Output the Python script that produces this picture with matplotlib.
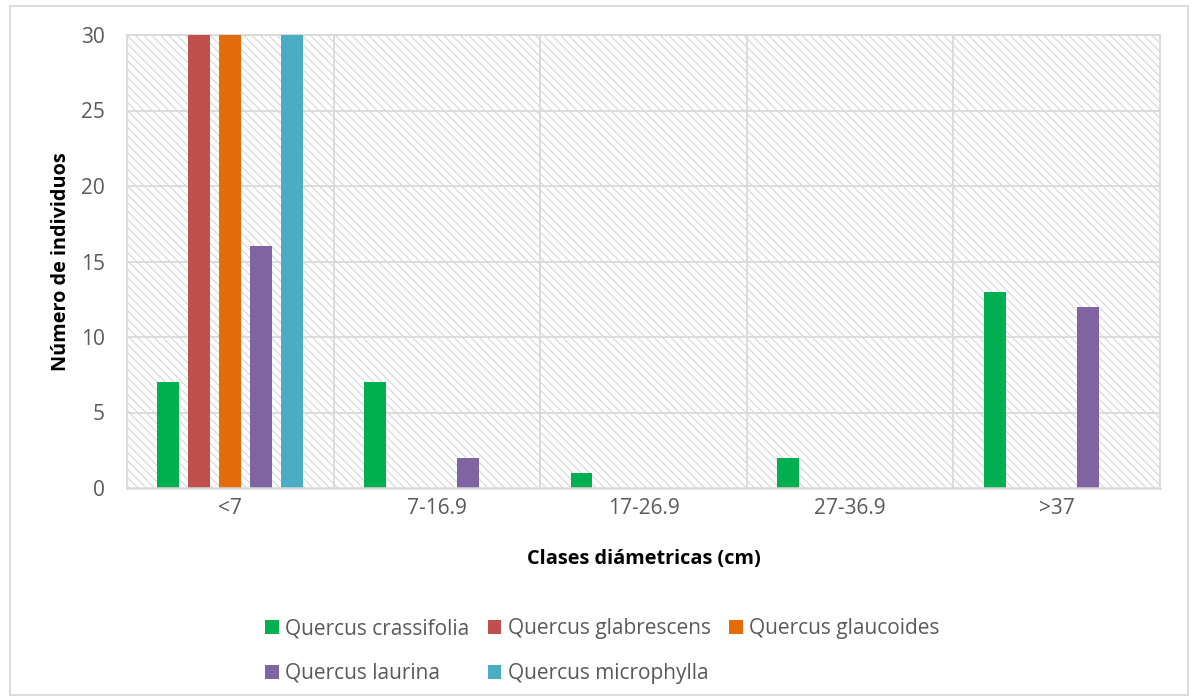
import matplotlib
matplotlib.use("Agg")
import matplotlib.pyplot as plt
from matplotlib.patches import Rectangle
import numpy as np

plt.rcParams['font.family'] = ['Open Sans', 'DejaVu Sans']
plt.rcParams['hatch.linewidth'] = 0.8

categories = ['<7', '7-16.9', '17-26.9', '27-36.9', '>37']
species = ['Quercus crassifolia', 'Quercus glabrescens', 'Quercus glaucoides',
           'Quercus laurina', 'Quercus microphylla']
crassifolia = [7, 7, 1, 2, 13]
glabrescens = [30, 0, 0, 0, 0]
glaucoides = [30, 0, 0, 0, 0]
laurina = [16, 2, 0, 0, 12]
microphylla = [30, 0, 0, 0, 0]
series = [crassifolia, glabrescens, glaucoides, laurina, microphylla]
colors = ['#00B050', '#C0504D', '#E36C09', '#8064A2', '#4BACC6']
y_ticks = [0, 5, 10, 15, 20, 25, 30]

grid_c = '#D9D9D9'
text_c = '#595959'

fig = plt.figure(figsize=(11.95, 7.0), dpi=100)
ax = fig.add_axes([127 / 1195, 1 - 488 / 700, (1160 - 127) / 1195, (488 - 35) / 700])

# hatched plot-area background
ax.set_facecolor('white')
bg = Rectangle((0, 0), 1, 1, transform=ax.transAxes, facecolor='white',
               edgecolor='#D6D6D6', hatch='\\\\\\\\', linewidth=0, zorder=0)
ax.add_patch(bg)

x = np.arange(len(categories))
step = 0.15
width = 0.106
handles = []
for i, (vals, col, name) in enumerate(zip(series, colors, species)):
    h = ax.bar(x + (i - 2) * step, vals, width=width, color=col, label=name, zorder=3)
    handles.append(h)

ax.set_xlim(-0.5, len(categories) - 0.5)
ax.set_ylim(0, 30)
ax.set_yticks(y_ticks)
ax.set_yticklabels([str(t) for t in y_ticks])
ax.set_xticks(x)
ax.set_xticklabels(categories)

# horizontal grid and category separators
for t in y_ticks[1:]:
    ax.axhline(t, color=grid_c, linewidth=1.3, zorder=1)
for b in np.arange(0.5, len(categories) - 1, 1.0):
    ax.axvline(b, color=grid_c, linewidth=1.3, zorder=1)

for s in ['left', 'right', 'top']:
    ax.spines[s].set_color(grid_c)
    ax.spines[s].set_linewidth(1.3)
ax.spines['bottom'].set_color(grid_c)
ax.spines['bottom'].set_linewidth(1.8)
ax.spines['bottom'].set_zorder(4)

ax.tick_params(axis='both', length=0, labelsize=15, colors=text_c)
ax.tick_params(axis='y', pad=16)
ax.tick_params(axis='x', pad=7)

ax.set_xlabel('Clases diámetricas (cm)', fontsize=14.3, fontweight='bold',
              color='black', labelpad=22)
ax.set_ylabel('Número de individuos', fontsize=14.3, fontweight='bold',
              color='black', labelpad=7)

# legend laid out row by row: three entries on the first row, two on the second
order = [0, 3, 1, 4, 2]
leg = fig.legend([handles[k] for k in order], [species[k] for k in order],
                 loc='upper left', bbox_to_anchor=(265 / 1195, 1 - 618 / 700),
                 ncol=3, frameon=False, fontsize=15, handlelength=0.65,
                 handleheight=0.65, handletextpad=0.3, columnspacing=0.9,
                 labelspacing=1.15, borderaxespad=0, borderpad=0)
for t in leg.get_texts():
    t.set_color(text_c)

# outer chart frame
fig.patches.append(Rectangle((10 / 1195, 1 - 695 / 700), (1188 - 10) / 1195,
                             (695 - 6) / 700, transform=fig.transFigure,
                             fill=False, edgecolor=grid_c, linewidth=1.3))

fig.savefig('out.png', dpi=100)
